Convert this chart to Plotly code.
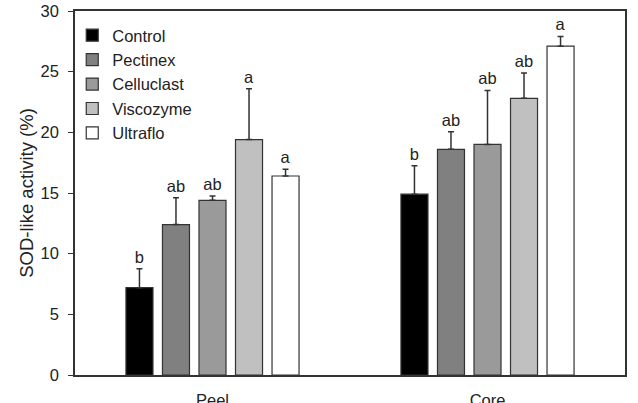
import plotly.graph_objects as go

categories = ["Peel", "Core"]
series = ["Control", "Pectinex", "Celluclast", "Viscozyme", "Ultraflo"]
colors = ["#000000", "#808080", "#9a9a9a", "#c0c0c0", "#ffffff"]
# values[series] = [Peel, Core]
values = {
    "Control":    [7.2, 14.9],
    "Pectinex":   [12.4, 18.6],
    "Celluclast": [14.4, 19.0],
    "Viscozyme":  [19.4, 22.8],
    "Ultraflo":   [16.4, 27.1],
}
errors = {
    "Control":    [1.55, 2.35],
    "Pectinex":   [2.2, 1.45],
    "Celluclast": [0.35, 4.45],
    "Viscozyme":  [4.2, 2.1],
    "Ultraflo":   [0.55, 0.8],
}
letters = {
    "Control":    ["b", "b"],
    "Pectinex":   ["ab", "ab"],
    "Celluclast": ["ab", "ab"],
    "Viscozyme":  ["a", "ab"],
    "Ultraflo":   ["a", "a"],
}

FONT = "Liberation Sans, Arial, sans-serif"
TXT = "#222222"
FS = 16.5

fig = go.Figure()
for i, s in enumerate(series):
    fig.add_trace(go.Bar(
        name=s, x=categories, y=values[s], offsetgroup=str(i),
        legendgroup=s,
        marker=dict(color=colors[i], line=dict(color="#333333", width=1.2)),
        error_y=dict(type="data", symmetric=False, array=errors[s],
                     arrayminus=[0] * len(categories),
                     color="#333333", thickness=1.5, width=3),
    ))
for i, s in enumerate(series):
    tops = [v + e for v, e in zip(values[s], errors[s])]
    fig.add_trace(go.Bar(
        x=categories, y=tops, offsetgroup=str(i), showlegend=False,
        marker=dict(color="rgba(0,0,0,0)", line=dict(width=0)),
        text=letters[s], textposition="outside", cliponaxis=False,
        textfont=dict(family=FONT, size=FS, color=TXT),
        hoverinfo="skip",
    ))

fig.update_layout(
    width=638, height=403,
    margin=dict(l=75, r=13, t=11, b=28),
    paper_bgcolor="white", plot_bgcolor="white",
    barmode="group", bargap=0.336, bargroupgap=0.26,
    font=dict(family=FONT, size=FS, color=TXT),
    showlegend=True,
    legend=dict(x=-0.005, y=0.981, xanchor="left", yanchor="top",
                bgcolor="rgba(0,0,0,0)", font=dict(size=FS, color=TXT),
                tracegroupgap=0, traceorder="grouped"),
)
fig.update_xaxes(
    showline=True, linecolor="#333333", linewidth=1.5, mirror=True,
    ticks="", showgrid=False, ticklabelstandoff=9, automargin=False,
    tickfont=dict(size=FS, color=TXT),
)
fig.update_yaxes(
    range=[0, 30], dtick=5, showgrid=False, zeroline=False, automargin=False,
    showline=True, linecolor="#333333", linewidth=1.5, mirror=True,
    ticks="outside", ticklen=5, tickcolor="#333333", tickwidth=1.2,
    ticklabelstandoff=6,
    tickfont=dict(size=FS, color=TXT),
    title=dict(text="SOD-like activity (%)", font=dict(size=18.5, color=TXT), standoff=2),
)

fig.write_html("out.html")
